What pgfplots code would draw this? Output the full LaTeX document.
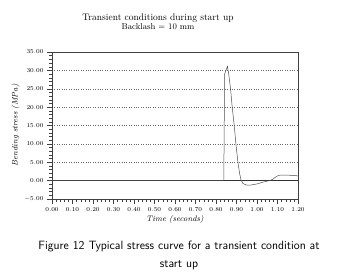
\documentclass[border=0pt]{standalone}
\usepackage{pgfplots}
\pgfplotsset{compat=1.18}
\begin{document}
\begin{tikzpicture}
\begin{axis}[
  at={(0,0)}, anchor=south west,
  scale only axis, width=246pt, height=147pt,
  xmin=0, xmax=1.2, ymin=-5, ymax=35,
  xtick={0,0.1,...,1.21}, ytick={-5,0,...,35},
  minor x tick num=4, minor y tick num=4,
  tick align=outside,
  xtick pos=bottom, ytick pos=left,
  major tick length=5pt, minor tick length=2.5pt,
  every tick/.style={black!75, line width=0.4pt},
  axis line style={black!75, line width=0.5pt},
  ymajorgrids, grid style={black!60, dotted, line width=0.5pt},
  x tick label style={/pgf/number format/.cd, fixed, fixed zerofill, precision=2},
  y tick label style={/pgf/number format/.cd, fixed, fixed zerofill, precision=2},
  tick label style={font=\fontsize{6.5}{7}\selectfont},
  xlabel={\itshape Time (seconds)},
  ylabel={\itshape Bending stress (MPa)},
  label style={font=\fontsize{8}{9}\selectfont},
  xlabel style={yshift=3pt},
  ylabel style={yshift=-2pt},
  clip=false,
]
\addplot[black!80, line width=0.5pt] coordinates {(0,0) (1.2,0)};
\addplot[black!70, line width=0.5pt, mark=none] coordinates {
(0,0) (0.838,0) (0.842,29) (0.856,31.1) (0.862,29) (0.871,25) (0.879,20)
(0.889,15) (0.897,10) (0.907,5) (0.915,2) (0.922,0.2) (0.932,-0.8)
(0.949,-1.2) (0.97,-1.2) (1.0,-0.9) (1.03,-0.4) (1.06,0) (1.075,0.3)
(1.096,1.2) (1.112,1.5) (1.15,1.5) (1.2,1.3)};
\end{axis}
\node[anchor=base, font=\fontsize{9.5}{10}\selectfont] at (106pt,178pt) {Transient conditions during start up};
\node[anchor=base, font=\fontsize{8.5}{9}\selectfont] at (106pt,169.5pt) {Backlash = 10 mm};
\node[anchor=base, font=\fontsize{12}{18}\selectfont\sffamily] at (127pt,-50pt) {Figure 12 Typical stress curve for a transient condition at};
\node[anchor=base, font=\fontsize{12}{18}\selectfont\sffamily] at (127pt,-68pt) {start up};
\pgfresetboundingbox
\path[use as bounding box] (-52pt,-77pt) rectangle (303pt,199pt);
\end{tikzpicture}
\end{document}
